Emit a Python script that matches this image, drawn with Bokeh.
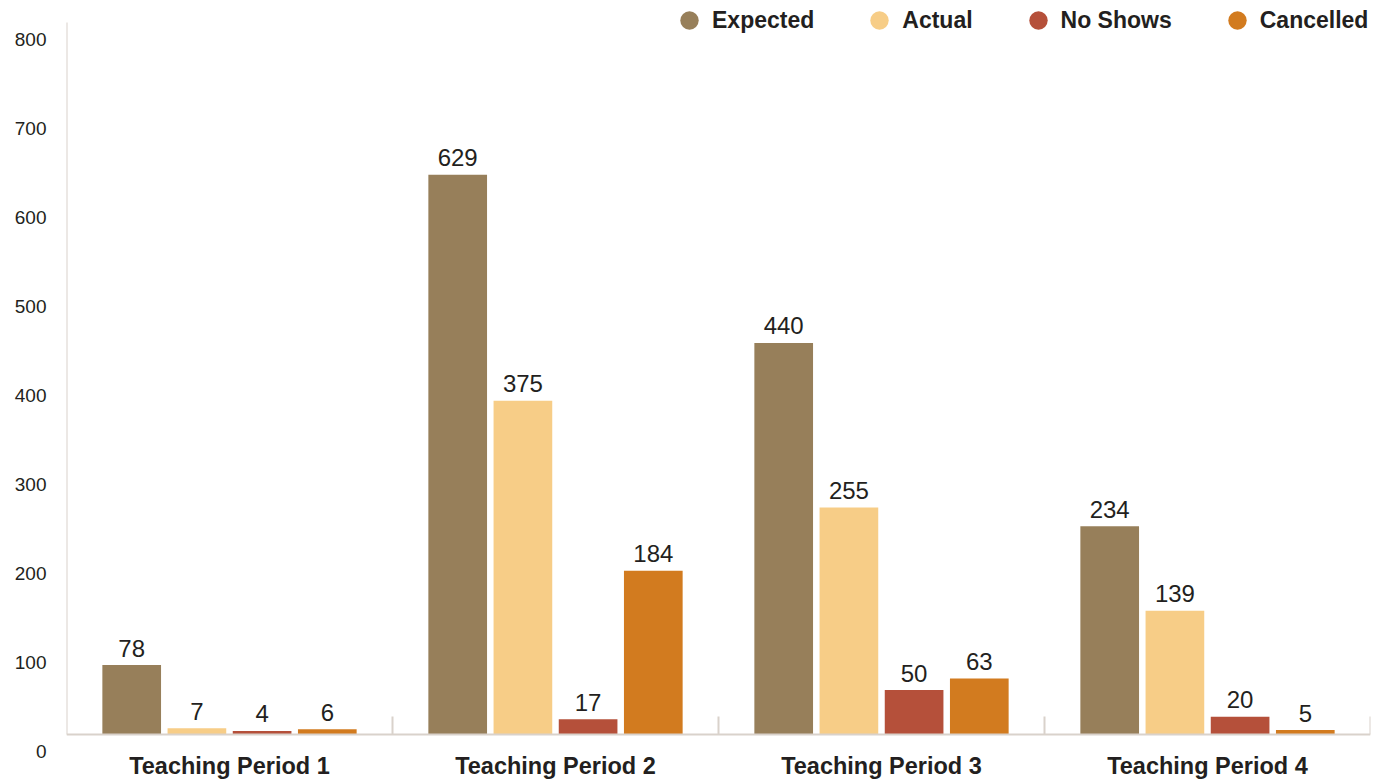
from bokeh.plotting import figure
from bokeh.models import (ColumnDataSource, FactorRange, Range1d, LinearAxis,
                          FixedTicker, Legend, LegendItem, Span)
from bokeh.transform import dodge
from bokeh.core.properties import value
from bokeh.embed import file_html
from bokeh.resources import INLINE

# ---- data -------------------------------------------------------------
periods = ["Teaching Period 1", "Teaching Period 2",
           "Teaching Period 3", "Teaching Period 4"]
series = ["Expected", "Actual", "No Shows", "Cancelled"]
expected = [78, 629, 440, 234]
actual = [7, 375, 255, 139]
no_shows = [4, 17, 50, 20]
cancelled = [6, 184, 63, 5]
y_ticks = [0, 100, 200, 300, 400, 500, 600, 700, 800]

colors = ["#977F5A", "#F7CD87", "#B5503A", "#D27B1F"]
text_color = "#231F20"
rule_color = "#D9D2CB"
font = "Liberation Sans"

# ---- geometry of the plotting frame (pixels) --------------------------
frame_w, frame_h = 1304, 752
top_pad_px = 22        # space above the top tick value
base_px = 734          # where zero sits inside the frame
label_drop_px = 16.5   # tick labels sit slightly below their values

px_per_unit = (base_px - top_pad_px) / y_ticks[-1]
y_start = -(frame_h - base_px) / px_per_unit
y_end = y_ticks[-1] + top_pad_px / px_per_unit
shift = label_drop_px / px_per_unit

cols = ["expected", "actual", "no_shows", "cancelled"]
data = dict(period=periods, expected=expected, actual=actual,
            no_shows=no_shows, cancelled=cancelled)
for c in cols:
    data[c + "_txt"] = [str(v) for v in data[c]]
source = ColumnDataSource(data)

p = figure(x_range=FactorRange(*periods, range_padding=0),
           y_range=Range1d(y_start, y_end),
           frame_width=frame_w, frame_height=frame_h,
           min_border_left=66, min_border_right=21,
           min_border_top=0, min_border_bottom=0,
           y_axis_location=None,
           output_backend="svg", toolbar_location=None)
p.outline_line_color = None
p.background_fill_color = "white"
p.border_fill_color = "white"
p.grid.grid_line_color = None

# ---- bars, value labels and legend markers ----------------------------
offsets = [-0.3, -0.1, 0.1, 0.3]
items = []
for name, c, off, col in zip(series, cols, offsets, colors):
    xs = dodge("period", off, range=p.x_range)
    p.vbar(x=xs, top=c, width=0.18, bottom=0, source=source,
           fill_color=col, line_color=None)
    p.text(x=xs, y=c, text=c + "_txt", source=source,
           text_align="center", text_baseline="alphabetic", y_offset=-17,
           text_font=value(font), text_font_size="24px",
           text_color=text_color)
    # hidden markers that only provide the round legend swatch
    dot = p.scatter(x=xs, y=c, source=source, marker="circle", size=20,
                    fill_color=col, line_color=None, visible=False)
    items.append(LegendItem(label=name, renderers=[dot]))

# ---- baseline, left rule and category separators ----------------------
p.add_layout(Span(location=0, dimension="width",
                  line_color=rule_color, line_width=2))
p.segment(x0=[0], y0=[y_ticks[0]], x1=[0], y1=[y_ticks[-1]],
          line_color=rule_color, line_width=2)
bounds = list(range(1, len(periods) + 1))
sep_h = 18 / px_per_unit
p.segment(x0=bounds, y0=[0] * len(bounds), x1=bounds,
          y1=[sep_h] * len(bounds), line_color=rule_color, line_width=2)

# ---- axes -------------------------------------------------------------
xa = p.xaxis[0]
xa.axis_line_color = None
xa.major_tick_line_color = None
xa.major_tick_in = 0
xa.major_tick_out = 0
xa.major_label_standoff = 0
xa.major_label_text_font = font
xa.major_label_text_font_size = "23.5px"
xa.major_label_text_font_style = "bold"
xa.major_label_text_color = text_color

p.extra_y_ranges = {"labels": Range1d(y_start + shift, y_end + shift)}
ya = LinearAxis(y_range_name="labels", ticker=FixedTicker(ticks=y_ticks))
ya.axis_line_color = None
ya.major_tick_line_color = None
ya.minor_tick_line_color = None
ya.major_tick_in = 0
ya.major_tick_out = 0
ya.major_label_standoff = 20
ya.major_label_text_font = font
ya.major_label_text_font_size = "19px"
ya.major_label_text_color = text_color
p.add_layout(ya, "left")

# ---- legend along the top edge ----------------------------------------
legend = Legend(items=items, orientation="horizontal",
                location=(600, frame_h - 44),
                glyph_width=46, glyph_height=48, label_standoff=0,
                spacing=42, padding=0, margin=0,
                border_line_color=None, background_fill_alpha=0,
                label_text_font=font, label_text_font_size="23px",
                label_text_font_style="bold", label_text_color=text_color)
p.add_layout(legend)

open("out.html", "w").write(file_html(p, INLINE))
